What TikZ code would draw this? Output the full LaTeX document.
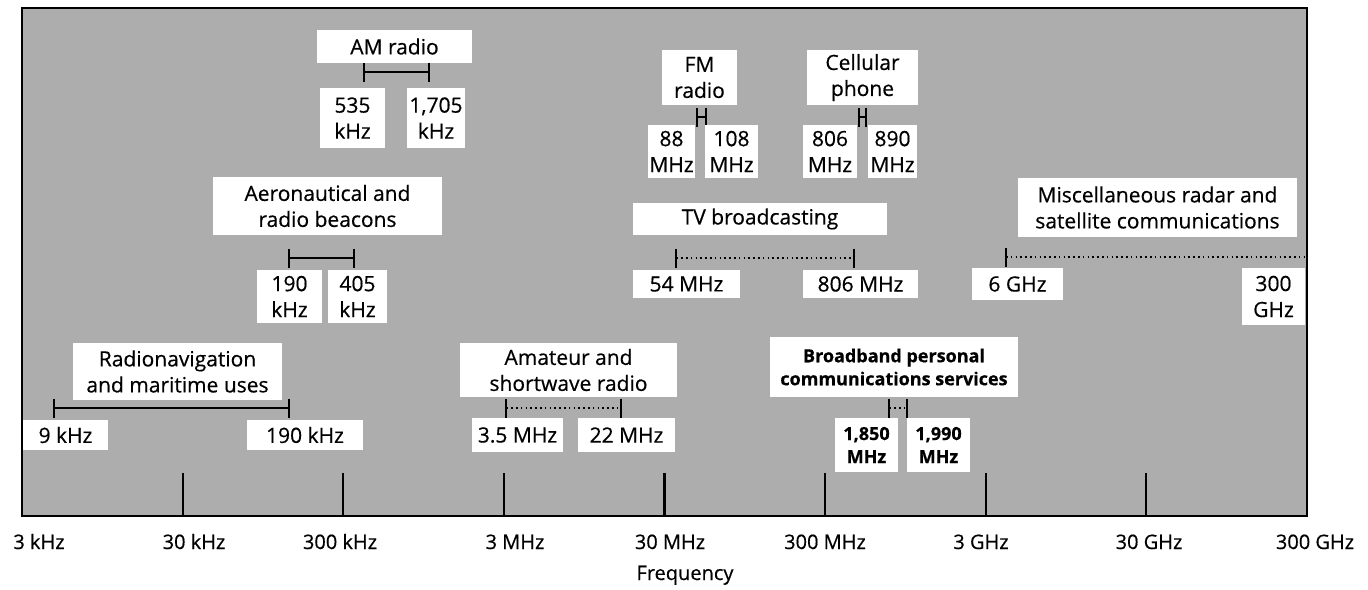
\documentclass[tikz,border=0pt]{standalone}
\usepackage{fontspec}
\setmainfont{Open Sans}[FakeBold=0.5]
\usetikzlibrary{arrows.meta, positioning}
\definecolor{screenGray}{gray}{0.68}

\begin{document}
\begin{tikzpicture}[x=1pt, y=-1pt, font=\fontsize{21}{26}\selectfont,
    tag/.style 2 args={fill=white, inner sep=0pt, align=center,
      minimum width=#1pt, minimum height=#2pt},
    bandline/.style={line width=1.8pt, {Bar[width=19pt]}-{Bar[width=19pt]}},
    bandgap/.style={bandline, dash pattern=on 1.6pt off 3.2pt},
    axislabel/.style={anchor=base, font=\fontsize{20}{24}\selectfont},
    pcs/.style={font=\fontsize{18}{23}\selectfont\bfseries}]
  \useasboundingbox (0,0) rectangle (1368,589);

  % frame and decade ticks
  \draw[line width=2.2pt, fill=screenGray] (22,8) rectangle (1307,516);
  \foreach \i in {1,...,7}
    \draw[line width=2.2pt] (22+\i*160.6,516) -- (22+\i*160.6,473);

  % AM radio
  \node[tag={155}{33}] (am) at (394.5,46.5) {AM radio};
  \coordinate (amlo) at (363,72);
  \coordinate (amhi) at (430,72);
  \draw[bandline] (amlo) -- (amhi);
  \node[tag={65}{60}] (amlot) at (352.5,118) {535\\kHz};
  \node[tag={58}{60}] (amhit) at (436,118) {1,705\\kHz};

  % FM radio
  \node[tag={75}{55}] (fm) at (699.5,77.5) {FM\\radio};
  \coordinate (fmlo) at (696,117);
  \coordinate (fmhi) at (707,117);
  \draw[bandline] (fmlo) -- (fmhi);
  \node[tag={47}{53}] (fmlot) at (671.5,151.5) {88\\MHz};
  \node[tag={53}{53}] (fmhit) at (731.5,151.5) {108\\MHz};

  % cellular phone
  \node[tag={111}{55}] (cell) at (862.5,77.5) {Cellular\\phone};
  \coordinate (celllo) at (858,117);
  \coordinate (cellhi) at (867,117);
  \draw[bandline] (celllo) -- (cellhi);
  \node[tag={54}{53}] (celllot) at (830,151.5) {806\\MHz};
  \node[tag={49}{53}] (cellhit) at (892.5,151.5) {890\\MHz};

  % aeronautical
  \node[tag={229}{58}] (aero) at (327.5,206) {Aeronautical and\\radio beacons};
  \coordinate (aerolo) at (288,258);
  \coordinate (aerohi) at (355,258);
  \draw[bandline] (aerolo) -- (aerohi);
  \node[tag={65}{53}] (aerolot) at (289.5,296.5) {190\\kHz};
  \node[tag={59}{53}] (aerohit) at (357.5,296.5) {405\\kHz};

  % TV
  \node[tag={254}{32}] (tv) at (760,219) {TV broadcasting};
  \coordinate (tvlo) at (675,258);
  \coordinate (tvhi) at (855,258);
  \draw[bandgap] (tvlo) -- (tvhi);
  \node[tag={107}{28}] (tvlot) at (686.5,284) {54 MHz};
  \node[tag={115}{28}] (tvhit) at (860.5,284) {806 MHz};

  % radar and satellite
  \node[tag={279}{59}] (misc) at (1157.5,207.5)
    {Miscellaneous radar and\\satellite communications};
  \coordinate (misclo) at (1006,257);
  \coordinate (mischi) at (1306,257);
  \draw[bandgap, -] (misclo) -- (mischi);
  \draw[line width=1.8pt] ([yshift=-9.5pt]misclo) -- ([yshift=9.5pt]misclo);
  \node[tag={91}{32}] (misclot) at (1017.5,284) {6 GHz};
  \node[tag={63}{57}] (mischit) at (1273.5,296.5) {300\\GHz};

  % radionavigation
  \node[tag={209}{57}] (nav) at (177.5,371.5) {Radionavigation\\and maritime uses};
  \coordinate (navlo) at (53,408);
  \coordinate (navhi) at (290,408);
  \draw[bandline] (navlo) -- (navhi);
  \node[tag={85}{30}] (navlot) at (65.5,435) {9 kHz};
  \node[tag={116}{30}] (navhit) at (305,435) {190 kHz};

  % amateur
  \node[tag={217}{54}] (ham) at (568.5,370) {Amateur and\\shortwave radio};
  \coordinate (hamlo) at (505,408);
  \coordinate (hamhi) at (622,408);
  \draw[bandgap] (hamlo) -- (hamhi);
  \node[tag={91}{34}] (hamlot) at (517.5,435) {3.5 MHz};
  \node[tag={97}{34}] (hamhit) at (626.5,435) {22 MHz};

  % PCS
  \node[tag={248}{60}, pcs] (pcs) at (894,367)
    {Broadband personal\\communications services};
  \coordinate (pcslo) at (888,408);
  \coordinate (pcshi) at (908,408);
  \draw[bandgap] (pcslo) -- (pcshi);
  \node[tag={63}{54}, pcs] (pcslot) at (866.5,445) {1,850\\MHz};
  \node[tag={63}{54}, pcs] (pcshit) at (938.5,445) {1,990\\MHz};

  % axis
  \node[axislabel] (f0) at (39,549) {3 kHz};
  \node[axislabel] (f1) at (194,549) {30 kHz};
  \node[axislabel] (f2) at (340,549) {300 kHz};
  \node[axislabel] (f3) at (515,549) {3 MHz};
  \node[axislabel] (f4) at (670,549) {30 MHz};
  \node[axislabel] (f5) at (825,549) {300 MHz};
  \node[axislabel] (f6) at (981,549) {3 GHz};
  \node[axislabel] (f7) at (1149,549) {30 GHz};
  \node[axislabel] (f8) at (1315,549) {300 GHz};
  \node[axislabel] (freq) at (685,580) {Frequency};
\end{tikzpicture}
\end{document}
